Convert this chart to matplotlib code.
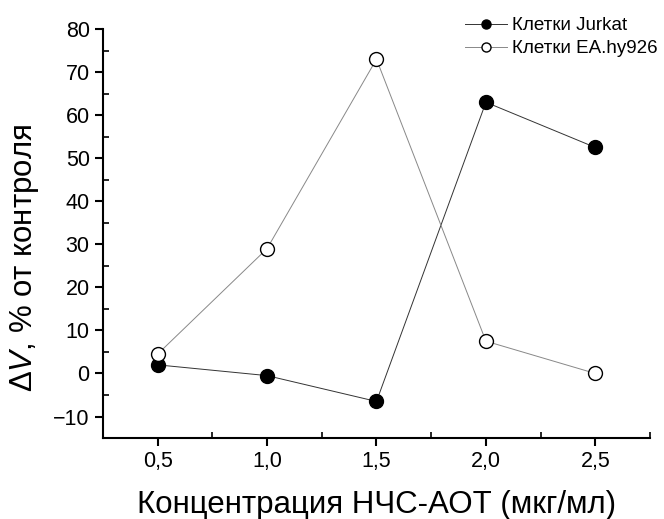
import matplotlib
matplotlib.use("Agg")
import matplotlib.pyplot as plt
from matplotlib.ticker import MultipleLocator, FuncFormatter

conc = [0.5, 1.0, 1.5, 2.0, 2.5]
jurkat = [2.0, -0.5, -6.5, 63.0, 52.5]
ea_hy926 = [4.5, 29.0, 73.0, 7.5, 0.0]
xticks = [0.5, 1.0, 1.5, 2.0, 2.5]
yticks = [-10, 0, 10, 20, 30, 40, 50, 60, 70, 80]

plt.rcParams['font.family'] = ['Liberation Sans', 'DejaVu Sans']
plt.rcParams['mathtext.fontset'] = 'custom'
plt.rcParams['mathtext.rm'] = 'Liberation Sans'
plt.rcParams['mathtext.it'] = 'Liberation Sans:italic'

fig = plt.figure(figsize=[6.64, 5.19], dpi=100)
ax = fig.add_axes([0.155, 0.156, 0.824, 0.788])

ax.plot(conc, jurkat, '-o', color='#333333', linewidth=0.7, markersize=10,
        markerfacecolor='black', markeredgecolor='black', label='Клетки Jurkat')
ax.plot(conc, ea_hy926, '-o', color='#888888', linewidth=0.7, markersize=10,
        markerfacecolor='white', markeredgecolor='black', markeredgewidth=1.0,
        label='Клетки EA.hy926')

ax.set_xlim(0.25, 2.75)
ax.set_ylim(-15, 80)
ax.set_xticks(xticks)
ax.set_yticks(yticks)
ax.xaxis.set_minor_locator(MultipleLocator(0.25))
ax.yaxis.set_minor_locator(MultipleLocator(5))
ax.xaxis.set_major_formatter(FuncFormatter(lambda v, p: ('%.1f' % v).replace('.', ',')))

ax.spines['top'].set_visible(False)
ax.spines['right'].set_visible(False)
for s in ['left', 'bottom']:
    ax.spines[s].set_linewidth(1.5)
ax.tick_params(which='major', direction='out', length=6, width=1.5, labelsize=15.5)
ax.tick_params(which='minor', direction='in', length=4, width=1.2)

ax.set_xlabel('Концентрация НЧС-АОТ (мкг/мл)', fontsize=22.5, labelpad=13)
ax.set_ylabel('$\\Delta V$, % от контроля', fontsize=22.5)
ax.yaxis.set_label_coords(-0.113, 0.44)

ax.legend(loc='upper right', bbox_to_anchor=(1.045, 1.07), frameon=False,
          fontsize=13.5, handlelength=2.2, handletextpad=0.3, labelspacing=0.3,
          markerscale=0.65)

plt.savefig('out.png')
